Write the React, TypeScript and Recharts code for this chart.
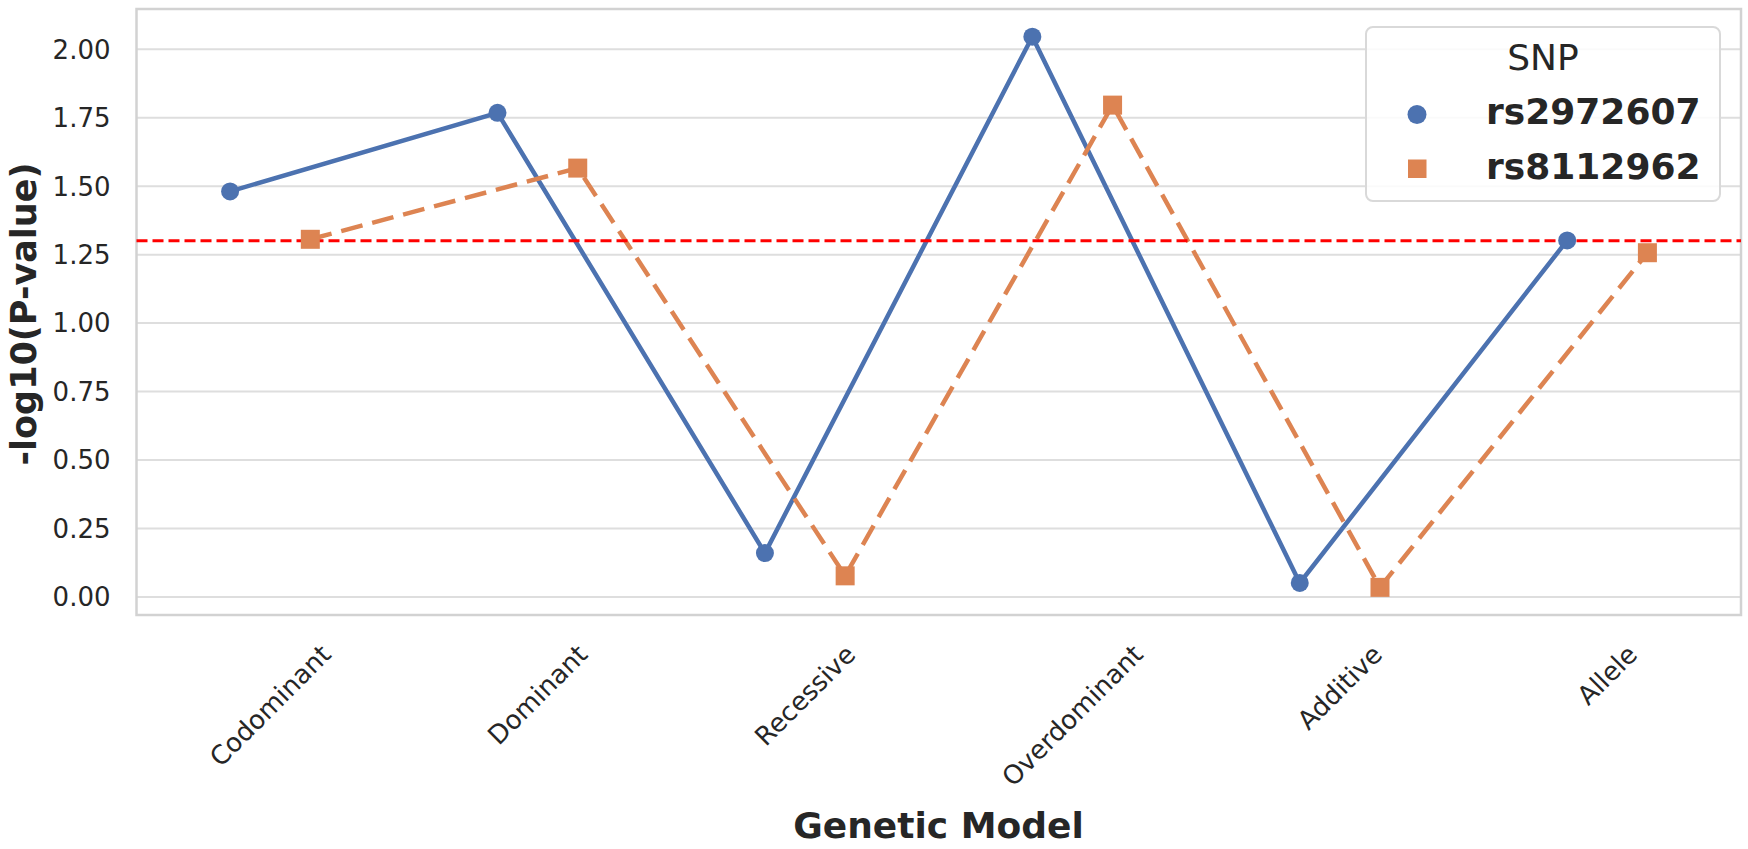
import React from 'react';
import { LineChart, Line, XAxis, YAxis, CartesianGrid, ReferenceLine, ReferenceArea, Legend, Label } from 'recharts';

const categories = ['Codominant', 'Dominant', 'Recessive', 'Overdominant', 'Additive', 'Allele'];
const rs2972607 = [1.481, 1.768, 0.16, 2.046, 0.051, 1.302];
const rs8112962 = [1.306, 1.566, 0.077, 1.796, 0.035, 1.257];
const seriesNames = ['rs2972607', 'rs8112962'];
const seriesColors = ['#4C72B0', '#DD8452'];
const yTicks = [0, 0.25, 0.5, 0.75, 1, 1.25, 1.5, 1.75, 2];
const xTicks = [0, 1, 2, 3, 4, 5];
const threshold = -Math.log10(0.05);

const DODGE = 0.15;
const Y_MIN = -0.066;
const Y_MAX = 2.147;

const blueData = rs2972607.map((v, i) => ({ x: i - DODGE, y: v }));
const orangeData = rs8112962.map((v, i) => ({ x: i + DODGE, y: v }));

const FONT = '"DejaVu Sans", Verdana, sans-serif';
const TEXT = '#262626';
const TICK_FS = 26;

let ctx: CanvasRenderingContext2D | null = null;
function measure(text: string, font: string): number {
  if (!ctx) ctx = document.createElement('canvas').getContext('2d');
  if (!ctx) return text.length * 15;
  ctx.font = font;
  return ctx.measureText(text).width;
}

const XTick = (props: any) => {
  const { x, y, payload } = props;
  const label = categories[Math.round(payload.value)];
  const L = measure(label, `${TICK_FS}px ${FONT}`);
  const hh = 1.17 * TICK_FS;
  const half = ((L + hh) * Math.SQRT1_2) / 2;
  const cx = x;
  const cy = y + half;
  return (
    <text
      x={cx}
      y={cy}
      dy={0.345 * TICK_FS}
      textAnchor="middle"
      transform={`rotate(-45 ${cx} ${cy})`}
      fontSize={TICK_FS}
      fontFamily={FONT}
      fill={TEXT}
    >
      {label}
    </text>
  );
};

const YTick = (props: any) => {
  const { x, y, payload } = props;
  return (
    <text x={x} y={y} dy={0.36 * TICK_FS} textAnchor="end" fontSize={TICK_FS} fontFamily={FONT} fill={TEXT}>
      {Number(payload.value).toFixed(2)}
    </text>
  );
};

const CircleDot = (p: any) => <circle key={`c${p.index}`} cx={p.cx} cy={p.cy} r={9} fill={seriesColors[0]} />;
const SquareDot = (p: any) => (
  <rect key={`s${p.index}`} x={p.cx - 9.5} y={p.cy - 9.5} width={19} height={19} fill={seriesColors[1]} />
);

const LegendBox = () => (
  <svg width={356} height={176} style={{ display: 'block', overflow: 'visible' }}>
    <rect x={1} y={1} width={354} height={174} rx={7} ry={7} fill="rgba(255,255,255,0.85)" stroke="#d9d9d9" strokeWidth={2} />
    <text x={178} y={44} textAnchor="middle" fontSize={36} fontFamily={FONT} fill={TEXT}>
      SNP
    </text>
    <circle cx={52} cy={88.5} r={9.5} fill={seriesColors[0]} />
    <text x={121} y={97.5} fontSize={36} fontWeight="bold" fontFamily={FONT} fill={TEXT}>
      {seriesNames[0]}
    </text>
    <rect x={43} y={133.5} width={18.5} height={18.5} fill={seriesColors[1]} />
    <text x={121} y={152.5} fontSize={36} fontWeight="bold" fontFamily={FONT} fill={TEXT}>
      {seriesNames[1]}
    </text>
  </svg>
);

export default function App() {
  return (
    <div style={{ position: 'absolute', left: 0, top: 0, width: 1748, height: 849, background: '#fff' }}>
      <LineChart width={1748} height={849} margin={{ top: 9, right: 7, bottom: 0, left: 0 }}>
        <CartesianGrid horizontal={true} vertical={false} stroke="#dedede" strokeWidth={2} />
        <ReferenceArea x1={-0.5} x2={5.5} y1={Y_MIN} y2={Y_MAX} fill="none" stroke="#d2d2d2" strokeWidth={2.5} />
        <XAxis
          type="number"
          dataKey="x"
          domain={[-0.5, 5.5]}
          ticks={xTicks}
          allowDataOverflow
          height={234}
          axisLine={false}
          tickLine={false}
          tickSize={0}
          tickMargin={24}
          tick={<XTick />}
          interval={0}
        >
          <Label
            content={() => (
              <text x={938.5} y={838} textAnchor="middle" fontSize={36} fontWeight="bold" fontFamily={FONT} fill={TEXT}>
                Genetic Model
              </text>
            )}
          />
        </XAxis>
        <YAxis
          type="number"
          domain={[Y_MIN, Y_MAX]}
          ticks={yTicks}
          allowDataOverflow
          width={136.5}
          axisLine={false}
          tickLine={false}
          tickSize={0}
          tickMargin={26}
          tick={<YTick />}
          interval={0}
        >
          <Label
            content={() => (
              <text
                x={24}
                y={314}
                transform="rotate(-90 24 314)"
                textAnchor="middle"
                dominantBaseline="central"
                fontSize={35}
                fontWeight="bold"
                fontFamily={FONT}
                fill={TEXT}
              >
                -log10(P-value)
              </text>
            )}
          />
        </YAxis>
        <Line
          data={blueData}
          dataKey="y"
          name={seriesNames[0]}
          stroke={seriesColors[0]}
          strokeWidth={4.5}
          dot={CircleDot}
          activeDot={false}
          isAnimationActive={false}
        />
        <Line
          data={orangeData}
          dataKey="y"
          name={seriesNames[1]}
          stroke={seriesColors[1]}
          strokeWidth={4.5}
          strokeDasharray="22 10"
          dot={SquareDot}
          activeDot={false}
          isAnimationActive={false}
        />
        <ReferenceLine y={threshold} stroke="#ff0000" strokeWidth={3} strokeDasharray="11 5" />
        <Legend
          layout="vertical"
          align="center"
          verticalAlign="middle"
          content={() => <LegendBox />}
          wrapperStyle={{ position: 'absolute', left: 1364.5, top: 25.5, width: 356, height: 176 }}
        />
      </LineChart>
    </div>
  );
}
